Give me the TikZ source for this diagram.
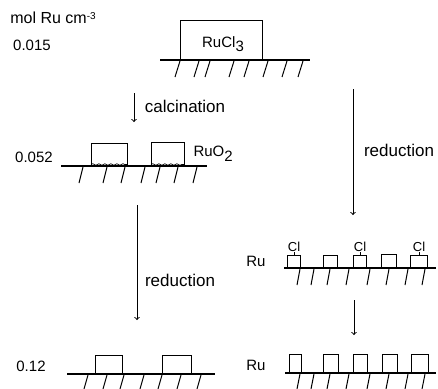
\documentclass[tikz,border=0pt]{standalone}
\usepackage{fontspec}
\setmainfont{Liberation Sans}
\usetikzlibrary{positioning,decorations.pathmorphing}
\newcommand{\lowsub}[1]{\raisebox{-4.5pt}{#1}}

\begin{document}
\begin{tikzpicture}[x=1pt,y=-1pt,line width=1pt,>=to,
    film/.style={draw,anchor=south west,inner sep=0pt},
    surface/.style={line width=1.1pt},
    hatch/.style={line width=1pt},
    label/.style={inner sep=0pt,font=\fontsize{15}{15}\selectfont},
    step label/.style={inner sep=0pt,font=\fontsize{17}{17}\selectfont},
    small/.style={inner sep=0pt,font=\fontsize{13}{13}\selectfont},
    rough/.style={decorate,decoration={snake,amplitude=0.8pt,segment length=6pt}}]
    \useasboundingbox (0,0) rectangle (438,388);

    % labels on the left
    \node[label,font=\fontsize{16}{16}\selectfont] (unit) at (53,18) {mol Ru cm\raisebox{4pt}{\fontsize{10}{10}\selectfont -3}};
    \node[label] (conc_1) at (32,45) {0.015};
    \node[label] (conc_2) at (34,157) {0.052};
    \node[label] (conc_3) at (31,366) {0.12};

    % RuCl3 on the support
    \node[film,minimum width=82pt,minimum height=39pt] (chloride) at (180,60) {};
    \node[label] (chloride_text) at (223,44) {RuCl\lowsub{3}};
    \coordinate (s1_l) at (160,60);
    \coordinate (s1_r) at (310,60);
    \draw[surface] (s1_l) -- (s1_r);
    \foreach \x in {180,199,210,234,249,268,287,303}
        \draw[hatch] (\x,61) -- ++(-5,16);

    % RuO2 after calcination
    \node[film,minimum width=36pt,minimum height=22pt] (oxide_1) at (91,166) {};
    \node[film,minimum width=33pt,minimum height=23pt] (oxide_2) at (151,166) {};
    \node[label,right=8pt of oxide_2.east] (oxide_text) {RuO\lowsub{2}};
    \coordinate (s2_l) at (61,166);
    \coordinate (s2_r) at (207,166);
    \draw[surface] (s2_l) -- (s2_r);
    \draw[rough,line width=0.7pt] (oxide_1.south west) ++(0,-1.5) -- ++(36,0);
    \draw[rough,line width=0.7pt] (oxide_2.south west) ++(0,-1.5) -- ++(33,0);
    \foreach \x in {83,107,125,145,160,178,197}
        \draw[hatch] (\x,167) -- ++(-4,16);

    % Ru after reduction of the oxide
    \node[film,minimum width=27pt,minimum height=18pt] (metal_1) at (95,374) {};
    \node[film,minimum width=29pt,minimum height=18pt] (metal_2) at (162,374) {};
    \coordinate (s3_l) at (67,374);
    \coordinate (s3_r) at (215,374);
    \draw[surface] (s3_l) -- (s3_r);
    \foreach \x in {88,107,124,144,162,181,201}
        \draw[hatch] (\x,375) -- ++(-4,14);

    % Ru with residual Cl
    \node[label] (ru_1) at (256,261) {Ru};
    \node[film,minimum width=13pt,minimum height=12pt] (cl_site_1) at (287,268) {};
    \node[film,minimum width=14pt,minimum height=12pt] (cl_site_2) at (323,268) {};
    \node[film,minimum width=13pt,minimum height=12pt] (cl_site_3) at (353,268) {};
    \node[film,minimum width=15pt,minimum height=13pt] (cl_site_4) at (381,268) {};
    \node[film,minimum width=17pt,minimum height=12pt] (cl_site_5) at (410,268) {};
    \node[small,above=3pt of cl_site_1] (cl_1) {Cl};
    \node[small,above=3pt of cl_site_3] (cl_2) {Cl};
    \node[small,above=3pt of cl_site_5] (cl_3) {Cl};
    \draw (cl_1) -- (cl_site_1);
    \draw (cl_2) -- (cl_site_3);
    \draw (cl_3) -- (cl_site_5);
    \coordinate (s4_l) at (284,268);
    \coordinate (s4_r) at (436,268);
    \draw[surface] (s4_l) -- (s4_r);
    \foreach \x in {300,314,330,349,370,389,408,425}
        \draw[hatch] (\x,269) -- ++(-3,16);

    % Ru after the second step
    \node[label] (ru_2) at (256,365) {Ru};
    \node[film,minimum width=12pt,minimum height=18pt] (ru_site_1) at (289,373) {};
    \node[film,minimum width=15pt,minimum height=18pt] (ru_site_2) at (323,373) {};
    \node[film,minimum width=14pt,minimum height=18pt] (ru_site_3) at (353,373) {};
    \node[film,minimum width=15pt,minimum height=18pt] (ru_site_4) at (382,373) {};
    \node[film,minimum width=17pt,minimum height=18pt] (ru_site_5) at (411,373) {};
    \coordinate (s5_l) at (285,373);
    \coordinate (s5_r) at (436,373);
    \draw[surface] (s5_l) -- (s5_r);
    \foreach \x in {300,314,330,349,370,389,408,425}
        \draw[hatch] (\x,374) -- ++(-3,15);

    % process arrows
    \coordinate (a1_top) at (134,93);
    \coordinate (a1_end) at (134,122);
    \coordinate (a2_top) at (137,205);
    \coordinate (a2_end) at (137,320);
    \coordinate (a3_top) at (353,89);
    \coordinate (a3_end) at (353,215);
    \coordinate (a4_top) at (354,300);
    \coordinate (a4_end) at (354,335);
    \draw[->] (a1_top) -- (a1_end);
    \draw[->] (a2_top) -- (a2_end);
    \draw[->] (a3_top) -- (a3_end);
    \draw[->] (a4_top) -- (a4_end);
    \node[step label] (calcination) at (185,106) {calcination};
    \node[step label] (reduction_1) at (180,280) {reduction};
    \node[step label] (reduction_2) at (399,150) {reduction};
\end{tikzpicture}
\end{document}
